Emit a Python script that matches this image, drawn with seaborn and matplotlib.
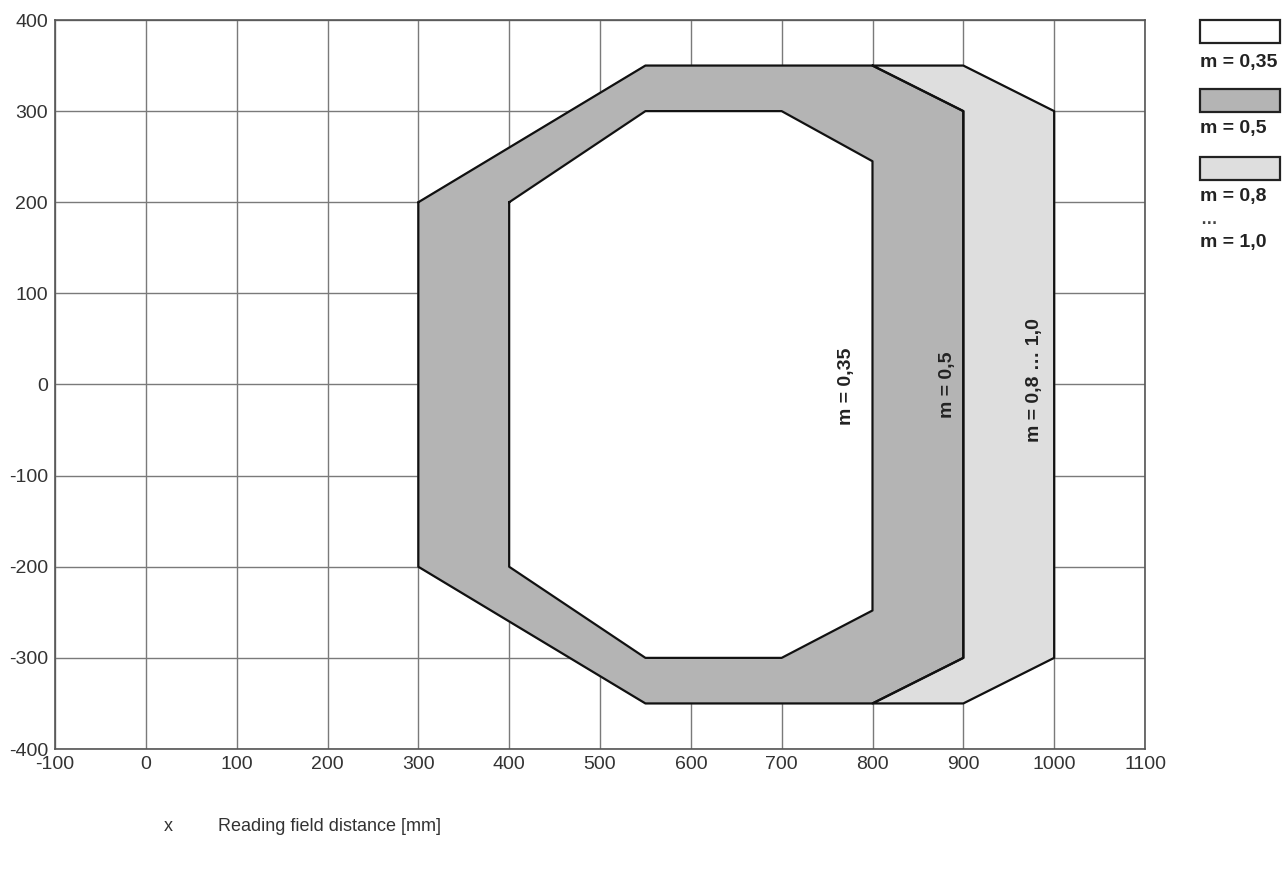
import matplotlib
matplotlib.use("Agg")
import matplotlib.pyplot as plt
import seaborn as sns
import pandas as pd
from matplotlib.patches import Rectangle

# reading field outlines [mm]
inner_x = [400, 550, 700, 800, 800, 700, 550, 400]
inner_y = [200, 300, 300, 245, -248, -300, -300, -200]
mid_x = [300, 550, 800, 900, 900, 800, 550, 300]
mid_y = [200, 350, 350, 300, -300, -350, -350, -200]
outer_x = [800, 900, 1000, 1000, 900, 800, 900, 900]
outer_y = [350, 350, 300, -300, -350, -350, -300, 300]

zone_labels = ["m = 0,35", "m = 0,5", "m = 0,8 … 1,0"]
zone_label_x = [771, 883, 978]
zone_label_y = [-2, 0, 5]

xticks = list(range(-100, 1101, 100))
yticks = list(range(-400, 401, 100))

colors = ["#ffffff", "#b4b4b4", "#dedede"]
legend_labels = ["m = 0,35", "m = 0,5", "m = 0,8"]
legend_extra = ["…", "m = 1,0"]

sns.set_theme(style="white")
plt.rcParams['font.family'] = ['Liberation Sans', 'DejaVu Sans']
plt.rcParams['axes.unicode_minus'] = False

fig = plt.figure(figsize=(12.88, 8.71), dpi=100)
ax = fig.add_axes([55 / 1288, 1 - 749 / 871, 1090 / 1288, 729 / 871])

ax.set_xlim(-100, 1100)
ax.set_ylim(-400, 400)
ax.set_xticks(xticks)
ax.set_yticks(yticks)
ax.grid(True, color="#7a7a7a", linewidth=1.0, zorder=0)
ax.set_axisbelow(True)
ax.tick_params(length=0, labelsize=14, colors="#333333", pad=5)
for s in ax.spines.values():
    s.set_color("#555555")
    s.set_linewidth(1.2)

# filled zones
ax.fill(outer_x, outer_y, color=colors[2], zorder=2)
ax.fill(mid_x, mid_y, color=colors[1], zorder=2)
ax.fill(inner_x, inner_y, color=colors[0], zorder=3)

# outlines
for xs, ys in [(outer_x, outer_y), (mid_x, mid_y), (inner_x, inner_y)]:
    d = pd.DataFrame({"x": xs + xs[:1], "y": ys + ys[:1]})
    sns.lineplot(data=d, x="x", y="y", sort=False, estimator=None,
                 color="#111111", linewidth=1.6, ax=ax, zorder=4)
ax.set_xlabel("")
ax.set_ylabel("")

for lab, tx, ty in zip(zone_labels, zone_label_x, zone_label_y):
    ax.text(tx, ty, lab, rotation=90, ha="center", va="center",
            fontsize=14, fontweight="bold", color="#222222", zorder=5)

# legend boxes at right
box_top = [20, 89, 157]
label_y = [62, 128, 197]
for c, bt, lab, ly in zip(colors, box_top, legend_labels, label_y):
    fig.patches.append(Rectangle((1200 / 1288, 1 - (bt + 23) / 871), 80 / 1288, 23 / 871,
                                 transform=fig.transFigure, facecolor=c,
                                 edgecolor="#222222", linewidth=1.6))
    fig.text(1200 / 1288, 1 - ly / 871, lab, ha="left", va="center",
             fontsize=14, fontweight="bold", color="#222222")
fig.text(1200 / 1288, 1 - 220 / 871, legend_extra[0], ha="left", va="center",
         fontsize=12, fontweight="bold", color="#444444")
fig.text(1200 / 1288, 1 - 242 / 871, legend_extra[1], ha="left", va="center",
         fontsize=14, fontweight="bold", color="#222222")

fig.text(164 / 1288, 1 - 826 / 871, "x", fontsize=13, color="#333333", va="center")
fig.text(218 / 1288, 1 - 826 / 871, "Reading field distance [mm]", fontsize=13,
         color="#333333", va="center")

fig.savefig("out.png", dpi=100)
